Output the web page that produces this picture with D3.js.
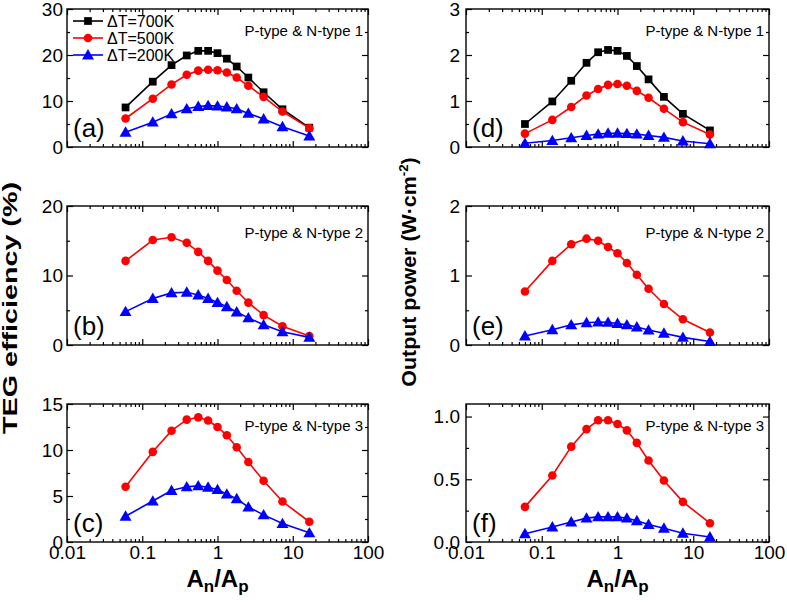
<!DOCTYPE html>
<html><head><meta charset="utf-8">
<script src="https://cdn.jsdelivr.net/npm/d3@7"></script>
<style>
html,body{margin:0;padding:0;background:#fff;}
svg{display:block;font-family:"Liberation Sans",Arial,sans-serif;}
</style></head>
<body>
<svg id="chart" width="787" height="603"></svg>
<script>
// ---- data ----
const ratio = [0.06, 0.138, 0.245, 0.39, 0.555, 0.75, 1, 1.33, 1.8, 2.57, 4.1, 7.3, 16.6];
const xTickValues = [0.01, 0.1, 1, 10, 100];
const xTickLabels = ["0.01", "0.1", "1", "10", "100"];
const seriesNames = ["\u0394T=700K", "\u0394T=500K", "\u0394T=200K"];

const effA700 = [8.6, 14.2, 17.8, 19.9, 20.9, 20.9, 20.4, 19.2, 17.5, 15.1, 11.9, 8.2, 4.2];
const effA500 = [6.2, 10.5, 13.6, 15.7, 16.6, 16.8, 16.7, 16.2, 15.1, 13.3, 10.9, 7.7, 4.1];
const effA200 = [3.2, 5.4, 7.2, 8.3, 8.8, 9.0, 8.9, 8.7, 8.3, 7.3, 6.1, 4.4, 2.4];
const effB500 = [12.1, 15.1, 15.5, 14.7, 13.4, 12.1, 10.7, 9.35, 7.8, 6.1, 4.3, 2.7, 1.3];
const effB200 = [4.8, 6.7, 7.5, 7.6, 7.2, 6.7, 6.1, 5.5, 4.75, 3.9, 2.9, 1.9, 1.1];
const effC500 = [6.0, 9.8, 12.1, 13.3, 13.55, 13.2, 12.5, 11.6, 10.3, 8.7, 6.65, 4.4, 2.2];
const effC200 = [2.8, 4.45, 5.6, 6.0, 6.1, 5.95, 5.7, 5.2, 4.7, 3.8, 2.95, 2.0, 1.0];
const powD700 = [0.50, 0.99, 1.44, 1.83, 2.06, 2.11, 2.09, 1.98, 1.76, 1.47, 1.09, 0.72, 0.36];
const powD500 = [0.29, 0.59, 0.87, 1.12, 1.26, 1.35, 1.37, 1.33, 1.22, 1.07, 0.83, 0.54, 0.27];
const powD200 = [0.08, 0.14, 0.20, 0.25, 0.28, 0.30, 0.30, 0.29, 0.28, 0.25, 0.21, 0.13, 0.07];
const powE500 = [0.77, 1.21, 1.45, 1.53, 1.50, 1.41, 1.32, 1.18, 1.01, 0.81, 0.59, 0.37, 0.18];
const powE200 = [0.13, 0.22, 0.29, 0.32, 0.33, 0.325, 0.31, 0.29, 0.26, 0.215, 0.17, 0.11, 0.05];
const powF500 = [0.28, 0.53, 0.76, 0.90, 0.97, 0.97, 0.94, 0.89, 0.79, 0.65, 0.49, 0.32, 0.15];
const powF200 = [0.066, 0.12, 0.16, 0.19, 0.20, 0.20, 0.20, 0.19, 0.17, 0.14, 0.11, 0.07, 0.04];

const yTicksA = [0, 10, 20, 30], yTicksB = [0, 10, 20], yTicksC = [0, 5, 10, 15];
const yTicksD = [0, 1, 2, 3], yTicksE = [0, 1, 2], yTicksF = [0, 0.5, 1.0];

// ---- layout ----
const colors = ["#000000", "#ff0000", "#0000ff"];
const shapes = [d3.symbolSquare, d3.symbolCircle, d3.symbolTriangle];
const symSize = [60, 58, 62];
const cols = [[67, 368], [466, 769]];
const rows = [[9, 147], [206, 345], [404, 542]];

const panels = [
  {c:0, r:0, label:"(a)", note:"P-type & N-type 1", noteDy:27, dom:[0,30], ticks:yTicksA, minor:5, fmt:d3.format("d"), series:[[0,effA700],[1,effA500],[2,effA200]], legend:true},
  {c:0, r:1, label:"(b)", note:"P-type & N-type 2", noteDy:32, dom:[0,20], ticks:yTicksB, minor:5, fmt:d3.format("d"), series:[[1,effB500],[2,effB200]]},
  {c:0, r:2, label:"(c)", note:"P-type & N-type 3", noteDy:27, dom:[0,15], ticks:yTicksC, minor:2.5, fmt:d3.format("d"), series:[[1,effC500],[2,effC200]], xlab:true},
  {c:1, r:0, label:"(d)", note:"P-type & N-type 1", noteDy:27, dom:[0,3], ticks:yTicksD, minor:0.5, fmt:d3.format("d"), series:[[0,powD700],[1,powD500],[2,powD200]]},
  {c:1, r:1, label:"(e)", note:"P-type & N-type 2", noteDy:32, dom:[0,2], ticks:yTicksE, minor:0.5, fmt:d3.format("d"), series:[[1,powE500],[2,powE200]]},
  {c:1, r:2, label:"(f)", note:"P-type & N-type 3", noteDy:27, dom:[0,1.1], ticks:yTicksF, minor:0.25, fmt:d3.format(".1f"), series:[[1,powF500],[2,powF200]], xlab:true}
];

const svg = d3.select("#chart");
const minorX = [];
for (let e = -2; e < 2; e++) for (let k = 2; k <= 9; k++) minorX.push(k * Math.pow(10, e));

panels.forEach(p => {
  const [x0, x1] = cols[p.c], [y0, y1] = rows[p.r];
  const xs = d3.scaleLog().domain([0.01, 100]).range([x0, x1]);
  const ys = d3.scaleLinear().domain(p.dom).range([y1, y0]);
  const g = svg.append("g");
  const minorY = d3.range(p.dom[0] + p.minor, p.dom[1] + 1e-9, p.minor).filter(v => !p.ticks.some(t => Math.abs(t - v) < 1e-9));

  const styleAxis = sel => { sel.selectAll(".domain").remove(); sel.selectAll("line").attr("stroke", "#000").attr("stroke-width", 1.2); };
  const styleText = sel => sel.selectAll("text").attr("font-size", 19).attr("fill", "#000").attr("font-family", "Liberation Sans, Arial");
  // bottom
  g.append("g").attr("transform", `translate(0,${y1})`)
    .call(d3.axisBottom(xs).tickValues(xTickValues).tickSize(-6).tickPadding(3).tickFormat((d, i) => p.xlab ? xTickLabels[i] : ""))
    .call(styleAxis).call(styleText);
  g.append("g").attr("transform", `translate(0,${y1})`)
    .call(d3.axisBottom(xs).tickValues(minorX).tickSize(-3).tickFormat("")).call(styleAxis);
  // top
  g.append("g").attr("transform", `translate(0,${y0})`)
    .call(d3.axisTop(xs).tickValues(xTickValues).tickSize(-6).tickFormat("")).call(styleAxis);
  g.append("g").attr("transform", `translate(0,${y0})`)
    .call(d3.axisTop(xs).tickValues(minorX).tickSize(-3).tickFormat("")).call(styleAxis);
  // left
  g.append("g").attr("transform", `translate(${x0},0)`)
    .call(d3.axisLeft(ys).tickValues(p.ticks).tickSize(-6).tickPadding(p.c === 0 ? 4 : 6).tickFormat(p.fmt))
    .call(styleAxis).call(styleText);
  g.append("g").attr("transform", `translate(${x0},0)`)
    .call(d3.axisLeft(ys).tickValues(minorY).tickSize(-3).tickFormat("")).call(styleAxis);
  // right
  g.append("g").attr("transform", `translate(${x1},0)`)
    .call(d3.axisRight(ys).tickValues(p.ticks).tickSize(-6).tickFormat("")).call(styleAxis);
  g.append("g").attr("transform", `translate(${x1},0)`)
    .call(d3.axisRight(ys).tickValues(minorY).tickSize(-3).tickFormat("")).call(styleAxis);
  // frame
  g.append("rect").attr("x", x0).attr("y", y0).attr("width", x1 - x0).attr("height", y1 - y0)
    .attr("fill", "none").attr("stroke", "#000").attr("stroke-width", 1.4);

  // series
  const line = d3.line().x((d, i) => xs(ratio[i])).y(d => ys(d));
  p.series.forEach(([si, vals]) => {
    g.append("path").datum(vals).attr("d", line).attr("fill", "none")
      .attr("stroke", colors[si]).attr("stroke-width", 1.6);
    g.selectAll(null).data(vals).enter().append("path")
      .attr("d", d3.symbol().type(shapes[si]).size(symSize[si]))
      .attr("transform", (d, i) => `translate(${xs(ratio[i])},${ys(d) + (si === 2 ? 1 : 0)})`)
      .attr("fill", colors[si]);
  });

  // labels
  g.append("text").attr("x", x0 + 6).attr("y", y1 - 10).attr("font-size", 26).text(p.label);
  g.append("text").attr("x", x1 - 5).attr("y", y0 + p.noteDy).attr("font-size", 15).attr("text-anchor", "end").text(p.note);

  if (p.legend) {
    seriesNames.forEach((nm, i) => {
      const ly = y0 + 12 + i * 17;
      g.append("line").attr("x1", x0 + 6).attr("x2", x0 + 36).attr("y1", ly).attr("y2", ly)
        .attr("stroke", colors[i]).attr("stroke-width", 1.6);
      g.append("path").attr("d", d3.symbol().type(shapes[i]).size(symSize[i]))
        .attr("transform", `translate(${x0 + 21},${ly + (i === 2 ? 1 : 0)})`).attr("fill", colors[i]);
      g.append("text").attr("x", x0 + 40).attr("y", ly + 6).attr("font-size", 16).text(nm);
    });
  }

  if (p.xlab) {
    const t = g.append("text").attr("x", (x0 + x1) / 2).attr("y", 587).attr("text-anchor", "middle")
      .attr("font-size", 24).attr("font-weight", "bold");
    t.append("tspan").text("A");
    t.append("tspan").attr("font-size", 17).attr("dy", 5).text("n");
    t.append("tspan").attr("dy", -5).text("/A");
    t.append("tspan").attr("font-size", 17).attr("dy", 5).text("p");
  }
});

// y titles
svg.append("text").attr("transform", "translate(17,308) rotate(-90)").attr("text-anchor", "middle")
  .attr("font-size", 20).attr("font-weight", "bold")
  .attr("textLength", 252).attr("lengthAdjust", "spacingAndGlyphs").text("TEG efficiency (%)");
const yt = svg.append("text").attr("transform", "translate(416,272) scale(1,1.02) rotate(-90)").attr("text-anchor", "middle")
  .attr("font-size", 21).attr("font-weight", "bold");
yt.append("tspan").text("Output power (W\u00B7cm");
yt.append("tspan").attr("font-size", 13).attr("dy", -8).text("-2");
yt.append("tspan").attr("dy", 8).text(")");
</script>
</body></html>
